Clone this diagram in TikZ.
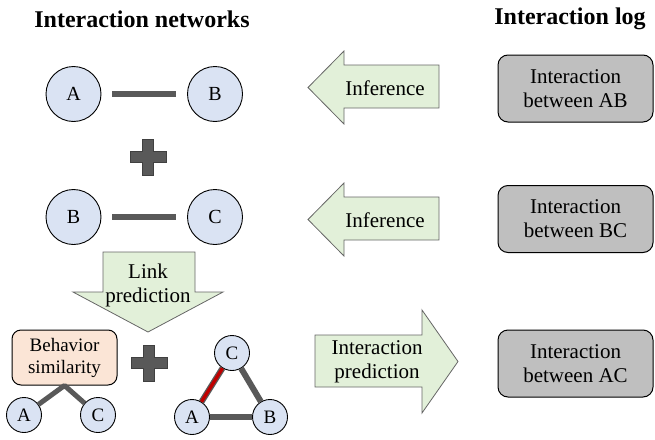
\documentclass[tikz,border=0pt]{standalone}
\usepackage{fontspec}
\setmainfont{Liberation Serif}

\definecolor{nodeblue}{HTML}{DAE3F3}
\definecolor{arrowgreen}{HTML}{E2F0D9}
\definecolor{peach}{HTML}{FBE5D6}
\definecolor{boxgray}{HTML}{BFBFBF}
\definecolor{linkgray}{HTML}{595959}
\definecolor{plusedge}{HTML}{404040}
\definecolor{arrowedge}{HTML}{666666}
\definecolor{predred}{HTML}{C00000}

\tikzset{
  person/.style={circle, draw=black, line width=0.9pt, fill=nodeblue,
    minimum size=55pt, inner sep=0pt, font=\fontsize{20}{24}\selectfont},
  smallperson/.style={person, minimum size=35pt, font=\fontsize{19}{22}\selectfont},
  link/.style={draw=linkgray, line width=6pt},
  blockarrow/.style={draw=arrowedge, fill=arrowgreen, line width=0.8pt, line join=miter},
  label/.style={align=center, inner sep=0pt, font=\fontsize{21}{24}\selectfont},
  logbox/.style={draw=black, fill=boxgray, rounded corners=10pt, line width=1pt,
    minimum width=155pt, minimum height=67pt, align=center, inner sep=0pt,
    font=\fontsize{21}{24}\selectfont},
  simbox/.style={draw=black, fill=peach, rounded corners=9pt, line width=1pt,
    minimum width=105pt, minimum height=55pt, align=center, inner sep=0pt,
    font=\fontsize{19}{22}\selectfont},
  heading/.style={font=\fontsize{24}{28}\selectfont\bfseries, inner sep=0pt},
  plussign/.pic={
    \draw[fill=linkgray, draw=plusedge, line width=0.8pt]
      (-5.5,-18) -- (5.5,-18) -- (5.5,-5.5) -- (18,-5.5) -- (18,5.5) -- (5.5,5.5)
      -- (5.5,18) -- (-5.5,18) -- (-5.5,5.5) -- (-18,5.5) -- (-18,-5.5) -- (-5.5,-5.5) -- cycle;
  }
}

\begin{document}
\begin{tikzpicture}[x=1pt, y=-1pt]
  \useasboundingbox (0,0) rectangle (655,439);

  % headings
  \node[heading] (hnet) at (142,19) {Interaction networks};
  \node[heading] (hlog) at (570,19) {Interaction log};

  % observed pair A--B
  \node[person] (a1) at (73.5,94) {A};
  \node[person] (b1) at (215,94) {B};
  \draw[link, shorten <=11pt, shorten >=11pt] (a1) -- (b1);

  \pic at (148,157) {plussign};

  % observed pair B--C
  \node[person] (b2) at (73.5,217) {B};
  \node[person] (c2) at (215,217) {C};
  \draw[link, shorten <=11pt, shorten >=11pt] (b2) -- (c2);

  % link prediction (down arrow)
  \draw[blockarrow] (103,252) -- (195,252) -- (195,292) -- (223,292) -- (148,332)
    -- (73,292) -- (103,292) -- cycle;
  \node[label] (lp) at (148,285) {Link\\prediction};

  % behaviour similarity
  \node[smallperson] (sa) at (24,415) {A};
  \node[smallperson] (sc) at (98,415) {C};
  \node[simbox] (beh) at (64.5,357.5) {Behavior\\similarity};
  \draw[link, line width=5pt, line join=round] (sa) -- (beh.south) -- (sc);

  \pic at (149,363) {plussign};

  % predicted triangle
  \node[smallperson] (ta) at (192,417) {A};
  \node[smallperson] (tb) at (270,417) {B};
  \node[smallperson] (tc) at (232,353) {C};
  \draw[link] (ta) -- (tb);
  \draw[link] (tc) -- (tb);
  \draw[link] (ta) -- (tc);
  \draw[predred, line width=3.4pt] (ta) -- (tc);

  % inference arrows (pointing left)
  \draw[blockarrow] (308,87.5) -- (344,51) -- (344,65) -- (439,65) -- (439,108)
    -- (344,108) -- (344,124) -- cycle;
  \node[label] (inf1) at (385,88) {Inference};
  \draw[blockarrow] (308,219.5) -- (344,183) -- (344,197) -- (439,197) -- (439,240)
    -- (344,240) -- (344,256) -- cycle;
  \node[label] (inf2) at (385,220) {Inference};

  % interaction prediction arrow (pointing right)
  \draw[blockarrow] (315,335) -- (422,335) -- (422,310) -- (458,361.5) -- (422,413)
    -- (422,387) -- (315,387) -- cycle;
  \node[label] (ip) at (377,362) {Interaction\\prediction};

  % interaction log
  \node[logbox] (logab) at (575.5,88.5) {Interaction\\between AB};
  \node[logbox] (logbc) at (575.5,219) {Interaction\\between BC};
  \node[logbox] (logac) at (575.5,363.5) {Interaction\\between AC};
\end{tikzpicture}
\end{document}
